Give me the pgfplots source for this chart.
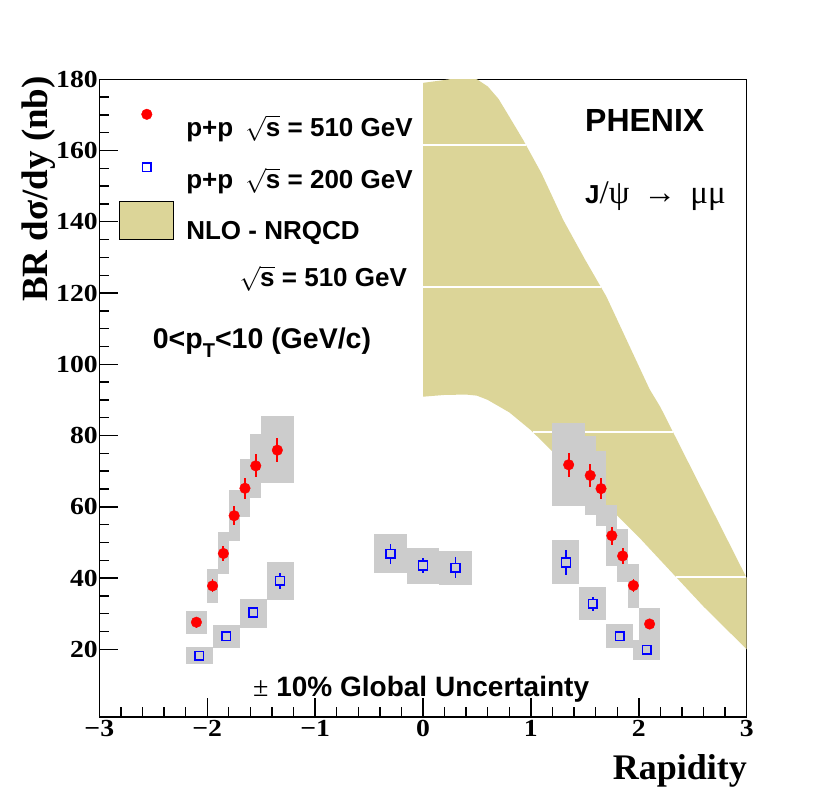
\documentclass[border=0pt]{standalone}
\usepackage{fontspec}
\setmainfont{Liberation Sans}
\newfontfamily\tms{Liberation Serif}
\newfontfamily\tmsw{Liberation Serif}[FakeStretch=1.13]
\usepackage{pgfplots}
\pgfplotsset{compat=1.18}
\usepackage{pgfplotstable}
\usepgfplotslibrary{fillbetween}

\definecolor{bandcol}{RGB}{220,213,152}
\newcommand{\sqs}{$\sqrt{\mbox{s}}$}
\newcommand{\legfont}{\fontsize{26}{30}\selectfont\bfseries}
\newcommand{\tickfont}{\fontsize{24.5}{28}\selectfont\tmsw\bfseries}

% NLO-NRQCD band, sqrt(s)=510 GeV
\pgfplotstableread{
x    y
0.0  179
0.2  179.8
0.35 180.5
0.5  180
0.6  178
0.7  174.5
0.8  169.5
0.93 162.9
1.1  153.5
1.3  140.5
1.5  129.5
1.7  119
1.9  106
2.1  93
2.2  88
2.4  76
2.6  64
2.8  52
3.0  40
}\bandup
\pgfplotstableread{
x    y
0.0  90.9
0.2  91.4
0.4  91.5
0.5  91.2
0.6  90
0.8  86.5
1.0  81.5
1.2  75.5
1.4  69.5
1.6  63.5
1.8  57.5
2.0  51.5
2.2  45
2.4  38.5
2.6  32
2.8  26
3.0  20
}\bandlo

% p+p 510 GeV: x y stat
\pgfplotstableread{
x     y    e
-2.1  27.6 1.5
-1.95 37.8 1.8
-1.85 46.9 2.1
-1.75 57.5 2.7
-1.65 65.2 2.9
-1.55 71.5 3.2
-1.35 75.9 3.4
1.35  71.8 3.3
1.55  68.8 3.2
1.65  65.1 3.0
1.75  51.9 2.5
1.85  46.2 2.2
1.95  37.9 1.8
2.1   27.1 1.5
}\pptop
% p+p 200 GeV
\pgfplotstableread{
x      y    e
-2.075 18.2 1.0
-1.825 23.7 1.2
-1.575 30.3 1.5
-1.325 39.2 2.15
-0.3   46.8 2.8
0.0    43.5 2.0
0.3    42.9 2.9
1.325  44.4 3.6
1.575  32.8 2.0
1.825  23.7 1.2
2.075  19.9 1.0
}\ppmid

% systematic boxes: centre, half height (grouped by bin width)
\pgfplotstableread{
x     y     e
-1.95 37.8  4.7
-1.85 47.0  5.8
-1.75 57.55 7.15
-1.65 65.2  8.1
-1.55 71.5  8.9
1.55  68.8  11.2
1.65  65.2  10.6
1.75  51.95 8.45
1.85  46.3  7.5
1.95  37.85 6.15
}\sysA
\pgfplotstableread{
x     y     e
-2.1  27.5  3.3
2.1   27.1  4.6
}\sysB
\pgfplotstableread{
x      y     e
-2.075 18.2  2.4
-1.825 23.65 3.15
-1.575 30.1  4.0
-1.325 39.1  5.3
1.325  44.55 6.25
1.575  32.75 4.65
1.825  23.75 3.35
2.075  19.85 2.85
}\sysC
\pgfplotstableread{
x     y     e
-1.35 76.05 9.45
1.35  71.8  11.6
-0.3  46.8  5.5
0.0   43.3  5.0
0.3   42.85 4.85
}\sysD

\begin{document}
\begin{tikzpicture}
\begin{axis}[
  at={(0pt,0pt)}, anchor=south west,
  scale only axis, width=647.4pt, height=637.7pt,
  xmin=-3, xmax=3, ymin=1, ymax=180,
  xtick={-3,...,3}, xticklabels={−3,−2,−1,0,1,2,3},
  ytick={20,40,...,180}, yticklabels={20,40,60,80,100,120,140,160,180},
  minor x tick num=4, minor y tick num=3,
  tick pos=left, tick align=inside,
  major tick length=19pt, minor tick length=10pt,
  every tick/.style={black, line width=1.4pt},
  axis line style={line width=1.5pt},
  ticklabel style={font=\tickfont},
  yticklabel style={xshift=2pt},
  legend style={at={(0.0309,0.9735)}, anchor=north west, draw=none, fill=none,
    inner sep=0pt, outer sep=0pt, row sep=10.5pt, font=\legfont,
    nodes={inner sep=0pt, outer sep=0pt},
    /tikz/every odd column/.append style={column sep=12pt}},
  legend cell align=left,
]
\addlegendimage{legend image code/.code={
  \path[draw=none, fill=none] (0pt,-8.3pt) rectangle (54pt,30.5pt);
  \fill[red] (27pt,12.4pt) circle (5.3pt);}}
\addlegendentry{p+p\hspace{12pt}\sqs{} = 510 GeV}
\addlegendimage{legend image code/.code={
  \path[draw=none, fill=none] (0pt,-8.3pt) rectangle (54pt,30.5pt);
  \filldraw[draw=blue, fill=white, line width=1.6pt] (22.65pt,7.35pt) rectangle (31.35pt,16.05pt);}}
\addlegendentry{p+p\hspace{12pt}\sqs{} = 200 GeV}
\addlegendimage{legend image code/.code={
  \path[draw=none, fill=none] (0pt,-8.3pt) rectangle (54pt,30.5pt);
  \filldraw[fill=bandcol, draw=black, line width=1pt] (0pt,-8.3pt) rectangle (54pt,29.4pt);}}
\addlegendentry{NLO - NRQCD}

% theory band
\addplot[name path=up, draw=none, forget plot] table {\bandup};
\addplot[name path=lo, draw=none, forget plot] table {\bandlo};
\addplot[fill=bandcol, draw=none, forget plot] fill between[of=up and lo];
% white seams of the fill pattern
\addplot[white, line width=1.4pt, forget plot] coordinates {(0,161.6) (0.953,161.6)};
\addplot[white, line width=1.4pt, forget plot] coordinates {(0,121.7) (1.649,121.7)};
\addplot[white, line width=1.4pt, forget plot] coordinates {(1.017,81.0) (2.317,81.0)};
\addplot[white, line width=1.4pt, forget plot] coordinates {(2.345,40.3) (2.995,40.3)};

% systematic boxes
\addplot[draw=none, mark=none, forget plot, error bars/.cd, y dir=both, y explicit,
  error mark=none, error bar style={draw=black!20, line width=10.79pt}]
  table[x=x, y=y, y error=e] {\sysA};
\addplot[draw=none, mark=none, forget plot, error bars/.cd, y dir=both, y explicit,
  error mark=none, error bar style={draw=black!20, line width=21.58pt}]
  table[x=x, y=y, y error=e] {\sysB};
\addplot[draw=none, mark=none, forget plot, error bars/.cd, y dir=both, y explicit,
  error mark=none, error bar style={draw=black!20, line width=26.98pt}]
  table[x=x, y=y, y error=e] {\sysC};
\addplot[draw=none, mark=none, forget plot, error bars/.cd, y dir=both, y explicit,
  error mark=none, error bar style={draw=black!20, line width=32.37pt}]
  table[x=x, y=y, y error=e] {\sysD};

% data
\addplot[only marks, mark=*, mark size=5.3pt, color=red, forget plot,
  error bars/.cd, y dir=both, y explicit, error mark=none,
  error bar style={red, line width=1.8pt}]
  table[x=x, y=y, y error=e] {\pptop};
\addplot[only marks, mark=square*, mark size=4.35pt, color=blue,
  mark options={draw=blue, fill=black!20, line width=1.6pt}, forget plot,
  error bars/.cd, y dir=both, y explicit, error mark=none,
  error bar style={blue, line width=1.6pt}]
  table[x=x, y=y, y error=e] {\ppmid};
\end{axis}

\node[anchor=base west, font=\legfont, inner sep=0pt] at (140pt,430.3pt) {\sqs{} = 510 GeV};
\node[anchor=base west, font=\fontsize{28.5}{30}\selectfont\bfseries, inner sep=0pt] at (53.4pt,368.7pt)
  {0<p\raisebox{-9pt}{\fontsize{20}{21}\selectfont T}<10 (GeV/c)};
\node[anchor=base west, font=\fontsize{32}{34}\selectfont\bfseries, inner sep=0pt] at (485.7pt,585.3pt) {PHENIX};
\node[anchor=base west, font=\legfont, inner sep=0pt] at (485.7pt,513.7pt)
  {J{\fontsize{33}{34}\selectfont\tms\mdseries /ψ\hspace{14pt}→\hspace{14pt}μμ}};
\node[anchor=base west, font=\fontsize{28}{30}\selectfont\bfseries, inner sep=0pt] at (153.7pt,20pt)
  {{\tms\mdseries ±} 10\% Global Uncertainty};
\node[anchor=base east, font=\fontsize{36}{40}\selectfont\tms\bfseries, inner sep=0pt] at (647.7pt,-63pt) {Rapidity};
\node[anchor=base east, rotate=90, font=\fontsize{37}{40}\selectfont\tms\bfseries, inner sep=0pt] at (-51.3pt,641pt) {BR dσ/dy (nb)};
\pgfresetboundingbox
\useasboundingbox (-99.3pt,-80pt) rectangle (730.7pt,717pt);
\end{tikzpicture}
\end{document}
